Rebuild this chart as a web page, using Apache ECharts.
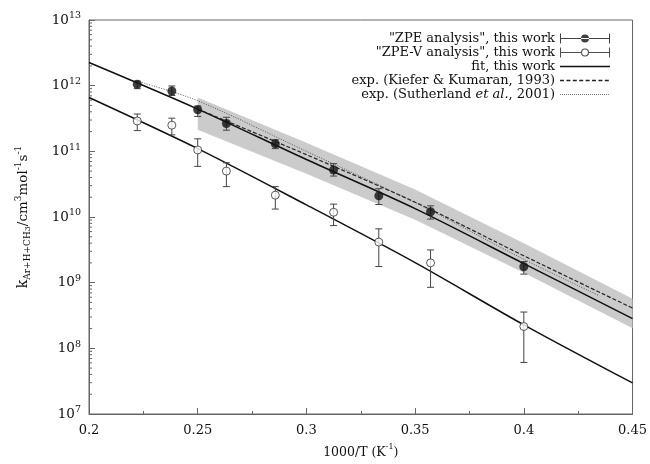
<!DOCTYPE html>
<html><head><meta charset="utf-8">
<script src="https://cdn.jsdelivr.net/npm/echarts@6/dist/echarts.min.js"></script>
<style>html,body{margin:0;padding:0;background:#fff}#c{width:650px;height:464px}</style>
</head><body><div id="c"></div>
<script>
// ---- data ----
const invT   = [0.2222, 0.2381, 0.2500, 0.2632, 0.2857, 0.3125, 0.3333, 0.3571, 0.4000];
const zpe    = [1.05e12, 8.3e11, 4.3e11, 2.65e11, 1.3e11, 5.2e10, 2.1e10, 1.2e10, 1.75e9];
const zpeLo  = [9.0e11, 7.1e11, 3.4e11, 2.1e11, 1.1e11, 4.2e10, 1.55e10, 9.3e9, 1.35e9];
const zpeHi  = [1.17e12, 9.9e11, 4.9e11, 3.3e11, 1.5e11, 6.5e10, 2.7e10, 1.48e10, 2.1e9];
const zpeV   = [2.9e11, 2.5e11, 1.05e11, 5.0e10, 2.15e10, 1.18e10, 4.15e9, 2.0e9, 2.15e8];
const zpeVLo = [2.07e11, 1.78e11, 5.9e10, 2.9e10, 1.32e10, 7.4e9, 1.76e9, 8.5e8, 6.1e7];
const zpeVHi = [3.7e11, 3.2e11, 1.55e11, 6.7e10, 2.9e10, 1.57e10, 6.6e9, 3.15e9, 3.57e8];

const fitX    = [0.2, 0.25, 0.3, 0.35, 0.4, 0.45];
const fitZpe  = [2.25e12, 4.4e11, 7.5e10, 1.34e10, 1.95e9, 2.83e8];
const fitZpeV = [6.6e11, 1.1e11, 1.53e10, 2.02e9, 2.28e8, 2.97e7];

const kieferX = [0.25, 0.3, 0.35, 0.4, 0.45];
const kieferK = [4.4e11, 8.9e10, 1.68e10, 2.57e9, 4.1e8];

const suthX = [0.2222, 0.25, 0.3, 0.35, 0.4, 0.4348];
const suthK = [1.17e12, 5.9e11, 1.0e11, 1.66e10, 2.27e9, 6.3e8];

const bandX   = [0.25, 0.3, 0.35, 0.4, 0.45];
const bandTop = [6.6e11, 1.35e11, 2.63e10, 3.98e9, 5.7e8];
const bandBot = [2.14e11, 4.57e10, 9.1e9, 1.41e9, 2.02e8];

const xTicks = [0.2, 0.25, 0.3, 0.35, 0.4, 0.45];
const yDecades = [7, 8, 9, 10, 11, 12, 13];

const names = ['"ZPE analysis", this work', '"ZPE-V analysis", this work', 'fit, this work',
               'exp. (Kiefer & Kumaran, 1993)', 'exp. (Sutherland et al., 2001)'];

// ---- build ----
const FONT = 'DejaVu Serif';
const zip = (a, b) => a.map((v, i) => [v, b[i]]);
const minorY = [];
yDecades.slice(0, -1).forEach(n => { for (let m = 2; m <= 9; m++) minorY.push([0.2, m * Math.pow(10, n)]); });

function errRender(params, api) {
  const x = api.value(0), lo = api.value(1), hi = api.value(2);
  const a = api.coord([x, lo]), b = api.coord([x, hi]);
  const w = 3.5, st = {stroke: '#444', lineWidth: 1};
  return {type: 'group', children: [
    {type: 'line', shape: {x1: a[0], y1: a[1], x2: b[0], y2: b[1]}, style: st},
    {type: 'line', shape: {x1: a[0] - w, y1: a[1], x2: a[0] + w, y2: a[1]}, style: st},
    {type: 'line', shape: {x1: b[0] - w, y1: b[1], x2: b[0] + w, y2: b[1]}, style: st}
  ]};
}

// legend icons (50 x 10 boxes)
const iconFilled = 'path://M0,0h1v10h-1z M49,0h1v10h-1z M0,4.5h50v1h-50z M21,5 a4,4 0 1,0 8,0 a4,4 0 1,0 -8,0z';
const iconOpen = 'path://M0,0h1v10h-1z M49,0h1v10h-1z M0,4.5h21v1h-21z M29,4.5h21v1h-21z M21,5 a4,4 0 1,0 8,0 a4,4 0 1,0 -8,0z M22.1,5 a2.9,2.9 0 1,1 5.8,0 a2.9,2.9 0 1,1 -5.8,0z';
const bracket = 'M0,0h0.01v10h-0.01z M49.99,0h0.01v10h-0.01z ';
const iconSolid = 'path://' + bracket + 'M0,4.2h50v1.6h-50z';
let dsh = 'path://' + bracket; for (let x = 0; x < 50; x += 6.4) dsh += 'M' + x + ',4.3h4v1.4h-4z ';
let dot = 'path://' + bracket; for (let x = 0; x < 50; x += 2) dot += 'M' + x + ',4.5h1v1h-1z ';

const chart = echarts.init(document.getElementById('c'), null, {renderer: 'canvas'});
chart.setOption({
  animation: false,
  backgroundColor: '#fff',
  textStyle: {fontFamily: FONT, color: '#111'},
  grid: {left: 89, right: 17, top: 20, bottom: 46, show: true, borderColor: '#666', borderWidth: 1, backgroundColor: 'transparent'},
  legend: {
    orient: 'vertical', right: 35, top: 27, align: 'right',
    itemWidth: 50, itemHeight: 10, itemGap: 1, symbolKeepAspect: false,
    textStyle: {fontFamily: FONT, fontSize: 13, color: '#111', rich: {i: {fontStyle: 'italic', fontFamily: FONT, fontSize: 13, color: '#111'}}},
    formatter: n => n.replace('et al.', '{i|et al.}'),
    data: [
      {name: names[0], icon: iconFilled, itemStyle: {color: '#111', borderWidth: 0}},
      {name: names[1], icon: iconOpen, itemStyle: {color: '#222', borderWidth: 0}},
      {name: names[2], icon: iconSolid, itemStyle: {color: '#111', borderWidth: 0}},
      {name: names[3], icon: dsh, itemStyle: {color: '#222', borderWidth: 0}},
      {name: names[4], icon: dot, itemStyle: {color: '#777', borderWidth: 0}}
    ]
  },
  xAxis: {
    type: 'value', min: xTicks[0], max: xTicks[xTicks.length - 1], interval: 0.05,
    name: '{t|1000/T (K}{s|-1}{t|)}', nameLocation: 'middle', nameGap: 29,
    nameTextStyle: {rich: {t: {fontFamily: FONT, fontSize: 12.5, color: '#111', verticalAlign: 'bottom', lineHeight: 16},
                           s: {fontFamily: FONT, fontSize: 8, color: '#111', verticalAlign: 'top', lineHeight: 16}}},
    axisLine: {lineStyle: {color: '#666'}},
    axisTick: {inside: true, length: 6, lineStyle: {color: '#666'}},
    minorTick: {show: true, splitNumber: 2, length: 3, lineStyle: {color: '#666'}},
    splitLine: {show: false},
    axisLabel: {fontFamily: FONT, fontSize: 13, color: '#111', margin: 10, formatter: v => String(+v.toFixed(2))}
  },
  yAxis: {
    type: 'log', logBase: 10, min: Math.pow(10, yDecades[0]), max: Math.pow(10, yDecades[yDecades.length - 1]),
    name: '{k|k}{sub|Ar+H+CH}{sub3|3}{t|/cm}{sup|3}{t|mol}{sup|-1}{t|s}{sup|-1}',
    nameLocation: 'middle', nameGap: 57,
    nameTextStyle: {rich: {
      k: {fontFamily: FONT, fontSize: 14, color: '#111'},
      t: {fontFamily: FONT, fontSize: 13.5, color: '#111'},
      sub: {fontFamily: FONT, fontSize: 9, color: '#111', verticalAlign: 'bottom', padding: [7, 0, 0, 0]},
      sub3: {fontFamily: FONT, fontSize: 8, color: '#111', verticalAlign: 'bottom', padding: [10, 0, 0, 0]},
      sup: {fontFamily: FONT, fontSize: 9, color: '#111', verticalAlign: 'top', padding: [0, 0, 8, 0]}
    }},
    axisLine: {lineStyle: {color: '#666'}},
    axisTick: {inside: true, length: 6, lineStyle: {color: '#666'}},
    splitLine: {show: false},
    axisLabel: {
      margin: 8,
      formatter: v => '{b|10}{e|' + Math.round(Math.log10(v)) + '}',
      rich: {b: {fontFamily: FONT, fontSize: 13.5, color: '#111'},
             e: {fontFamily: FONT, fontSize: 9.5, color: '#111', verticalAlign: 'top', padding: [0, 0, 8, 0]}}
    }
  },
  series: [
    {type: 'custom', name: 'band', silent: true, z: 1, clip: true,
     data: [[bandX[0], bandTop[0]]],
     renderItem: (p, api) => {
       const pts = bandX.map((x, i) => api.coord([x, bandTop[i]]))
         .concat(bandX.slice().reverse().map((x, i) => api.coord([x, bandBot[bandX.length - 1 - i]])));
       return {type: 'polygon', shape: {points: pts}, style: {fill: '#cbcbcb'}};
     }},
    {type: 'custom', name: 'minorY', silent: true, z: 3, clip: false, data: minorY,
     renderItem: (p, api) => {
       const c = api.coord([api.value(0), api.value(1)]);
       return {type: 'line', shape: {x1: c[0], y1: c[1], x2: c[0] + 3, y2: c[1]}, style: {stroke: '#666', lineWidth: 1}};
     }},
    {type: 'line', name: names[2], data: zip(fitX, fitZpe), symbol: 'none', z: 4, smooth: 0.3,
     lineStyle: {color: '#111', width: 1.5}, itemStyle: {color: '#111'}},
    {type: 'line', name: names[2], data: zip(fitX, fitZpeV), symbol: 'none', z: 4, smooth: 0.3,
     lineStyle: {color: '#111', width: 1.5}, itemStyle: {color: '#111'}},
    {type: 'line', name: names[3], data: zip(kieferX, kieferK), symbol: 'none', z: 4, smooth: 0.3,
     lineStyle: {color: '#222', width: 1.2, type: [4, 2]}, itemStyle: {color: '#222'}},
    {type: 'line', name: names[4], data: zip(suthX, suthK), symbol: 'none', z: 4, smooth: 0.3,
     lineStyle: {color: '#555', width: 1, type: [1, 1.5]}, itemStyle: {color: '#555'}},
    {type: 'custom', name: 'errZpe', silent: true, z: 5, renderItem: errRender,
     encode: {x: 0, y: [1, 2]}, data: invT.map((x, i) => [x, zpeLo[i], zpeHi[i]])},
    {type: 'custom', name: 'errZpeV', silent: true, z: 5, renderItem: errRender,
     encode: {x: 0, y: [1, 2]}, data: invT.map((x, i) => [x, zpeVLo[i], zpeVHi[i]])},
    {type: 'scatter', name: names[0], data: zip(invT, zpe), symbol: 'circle', symbolSize: 9, z: 6,
     itemStyle: {color: '#111'}},
    {type: 'scatter', name: names[1], data: zip(invT, zpeV), symbol: 'circle', symbolSize: 8, z: 6,
     itemStyle: {color: '#fff', borderColor: '#333', borderWidth: 1}}
  ]
});
</script>
</body></html>
